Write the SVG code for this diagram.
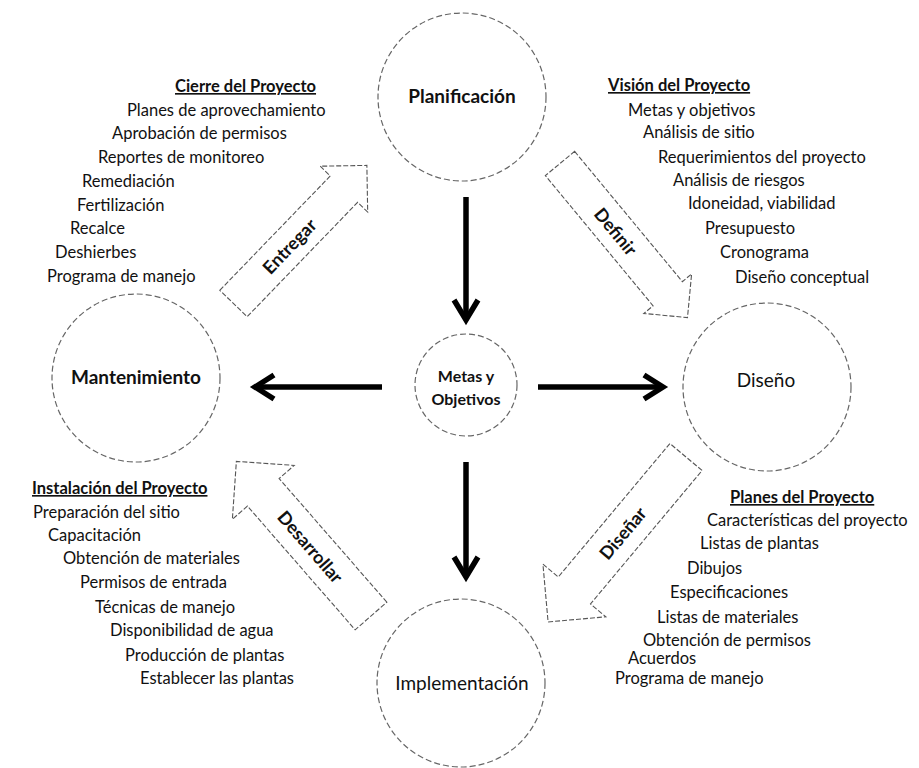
<svg xmlns="http://www.w3.org/2000/svg" width="919" height="768" viewBox="0 0 919 768">
<style>
.bg{fill:#fff}
.node{fill:#fff;stroke:#666;stroke-width:1.2;stroke-dasharray:6 3}
.blk{fill:#fff;stroke:#555;stroke-width:1.1;stroke-dasharray:5 2;stroke-linejoin:miter}
.conn line,.conn polyline{fill:none;stroke:#000;stroke-width:5.5;stroke-linejoin:miter;stroke-miterlimit:10}
text{font-family:Lato,"Open Sans","Liberation Sans",sans-serif;fill:#111}
.nl{font-size:19px;text-anchor:middle}
.b{font-weight:bold}
.t{font-size:16.5px}
.h{font-size:16.5px;font-weight:bold;text-decoration:underline}
.al{font-size:18px;font-weight:bold;text-anchor:middle;dominant-baseline:central}
</style>
<rect class="bg" x="0" y="0" width="919" height="768"/>

<g id="planificacion">
<circle class="node" cx="462" cy="97" r="84"/>
<text class="nl b" x="462" y="103">Planificación</text>
</g>
<g id="metas">
<circle class="node" cx="466" cy="385" r="51"/>
<text class="b" x="466" y="382" style="font-size:16px;text-anchor:middle">Metas y</text>
<text class="b" x="466" y="405" style="font-size:16px;text-anchor:middle">Objetivos</text>
</g>
<g id="mantenimiento">
<circle class="node" cx="136" cy="378" r="84"/>
<text class="nl b" x="136" y="384">Mantenimiento</text>
</g>
<g id="diseno">
<circle class="node" cx="767" cy="387" r="84"/>
<text class="nl" x="766" y="387">Diseño</text>
</g>
<g id="implementacion">
<circle class="node" cx="461" cy="683" r="84"/>
<text class="nl" x="462" y="690">Implementación</text>
</g>

<g id="connectors" class="conn">
<line x1="466" y1="197" x2="466" y2="318"/>
<polyline points="454,300 466,320 478,300"/>
<line x1="382" y1="387" x2="256" y2="387"/>
<polyline points="274,375 255,387 274,399"/>
<line x1="538" y1="387" x2="662" y2="387"/>
<polyline points="644,375 663,387 644,399"/>
<line x1="466" y1="462" x2="466" y2="576"/>
<polyline points="454,557 466,577 478,557"/>
</g>

<g id="entregar" transform="translate(233.5,303.5) rotate(-46)">
<polygon class="blk" points="0,-19 159,-19 159,-33 192,0 159,33 159,19 0,19"/>
<text class="al" x="80" y="0">Entregar</text>
</g>
<g id="definir" transform="translate(560,163.5) rotate(50.4)">
<polygon class="blk" points="0,-19 169,-19 169,-31 200,0 169,31 169,19 0,19"/>
<text class="al" x="88" y="0">Definir</text>
</g>
<g id="disenar" transform="translate(686,457) rotate(-50.1)">
<polygon class="blk" points="0,-21 -174,-21 -174,-41 -215,0 -174,41 -174,21 0,21"/>
<text class="al" x="-99" y="0">Diseñar</text>
</g>
<g id="desarrollar" transform="translate(371,616) rotate(48.95)">
<polygon class="blk" points="0,-21 -164,-21 -164,-41 -205,0 -164,41 -164,21 0,21"/>
<text class="al" x="-92" y="0">Desarrollar</text>
</g>

<g id="cierre">
<text class="h" x="175" y="92">Cierre del Proyecto</text>
<text class="t" x="127" y="116">Planes de aprovechamiento</text>
<text class="t" x="112" y="139">Aprobación de permisos</text>
<text class="t" x="98" y="163">Reportes de monitoreo</text>
<text class="t" x="82" y="187">Remediación</text>
<text class="t" x="77" y="211">Fertilización</text>
<text class="t" x="70" y="234">Recalce</text>
<text class="t" x="55" y="258">Deshierbes</text>
<text class="t" x="47" y="282">Programa de manejo</text>
</g>

<g id="vision">
<text class="h" x="608" y="91">Visión del Proyecto</text>
<text class="t" x="628" y="116">Metas y objetivos</text>
<text class="t" x="643" y="138">Análisis de sitio</text>
<text class="t" x="658" y="163">Requerimientos del proyecto</text>
<text class="t" x="673" y="186">Análisis de riesgos</text>
<text class="t" x="688" y="209">Idoneidad, viabilidad</text>
<text class="t" x="705" y="234">Presupuesto</text>
<text class="t" x="720" y="258">Cronograma</text>
<text class="t" x="735" y="283">Diseño conceptual</text>
</g>

<g id="instalacion">
<text class="h" x="32" y="494">Instalación del Proyecto</text>
<text class="t" x="33" y="518">Preparación del sitio</text>
<text class="t" x="48" y="541">Capacitación</text>
<text class="t" x="63" y="564">Obtención de materiales</text>
<text class="t" x="80" y="588">Permisos de entrada</text>
<text class="t" x="95" y="613">Técnicas de manejo</text>
<text class="t" x="110" y="636">Disponibilidad de agua</text>
<text class="t" x="125" y="661">Producción de plantas</text>
<text class="t" x="140" y="684">Establecer las plantas</text>
</g>

<g id="planes">
<text class="h" x="730" y="503">Planes del Proyecto</text>
<text class="t" x="707" y="526">Características del proyecto</text>
<text class="t" x="700" y="549">Listas de plantas</text>
<text class="t" x="687" y="574">Dibujos</text>
<text class="t" x="670" y="598">Especificaciones</text>
<text class="t" x="657" y="623">Listas de materiales</text>
<text class="t" x="643" y="646">Obtención de permisos</text>
<text class="t" x="628" y="664">Acuerdos</text>
<text class="t" x="615" y="684">Programa de manejo</text>
</g>
</svg>
